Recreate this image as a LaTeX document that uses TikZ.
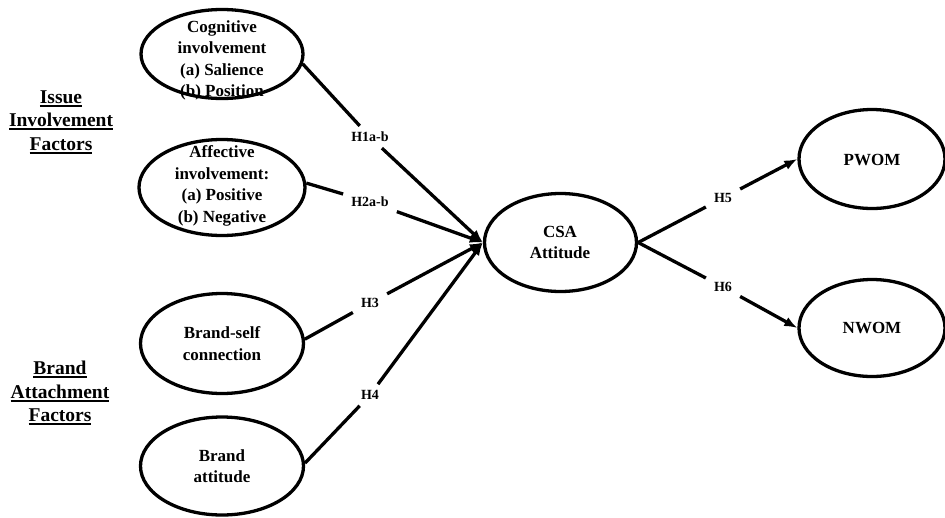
\documentclass[tikz,border=0pt]{standalone}
\usepackage{fontspec}
\setmainfont{Liberation Serif}
\usetikzlibrary{arrows.meta,shapes.geometric}
\newcommand{\ulb}[1]{\setbox0=\hbox{#1}\rlap{\rule[-3.5pt]{\wd0}{1.7pt}}\box0}
\begin{document}
\begin{tikzpicture}[x=1pt,y=-1pt,
  oval/.style={ellipse,draw,line width=3.3pt,inner sep=0pt},
  etext/.style={align=center,font=\bfseries\fontsize{17}{21.5}\selectfont,inner sep=0pt},
  hlab/.style={font=\bfseries\fontsize{14}{16}\selectfont,inner xsep=8pt,inner ysep=6pt},
  group/.style={align=center,font=\bfseries\fontsize{19.5}{23.5}\selectfont},
  conn/.style={line width=3.3pt},
  arr/.style={conn,-{Latex[length=13pt,width=10pt]}}]
\useasboundingbox (0,0) rectangle (945,517);

% ellipses
\node[oval,minimum width=162pt,minimum height=89pt] (cog) at (222,54) {};
\node[oval,minimum width=166pt,minimum height=96pt] (aff) at (222,187.5) {};
\node[oval,minimum width=163pt,minimum height=100pt] (bsc) at (222,343.5) {};
\node[oval,minimum width=163pt,minimum height=98pt] (bat) at (222,466) {};
\node[oval,minimum width=152pt,minimum height=98pt] (csa) at (560.5,242.5) {};
\node[oval,minimum width=146pt,minimum height=99pt] (pwom) at (872,159) {};
\node[oval,minimum width=146pt,minimum height=97pt] (nwom) at (872,328) {};

% texts
\node[etext] (cogt) at (222,60.5) {Cognitive\\involvement\\(a) Salience\\(b) Position};
\node[etext] (afft) at (222,186) {Affective\\involvement:\\(a) Positive\\(b) Negative};
\node[etext] (bsct) at (222,343.5) {Brand-self\\connection};
\node[etext] (batt) at (222,466) {Brand\\attitude};
\node[etext] (csat) at (560,242.5) {CSA\\Attitude};
\node[etext] (pwomt) at (872,160) {PWOM};
\node[etext] (nwomt) at (872,328) {NWOM};

% group labels
\node[group] (issue) at (61,122) {\ulb{Issue}\\\ulb{Involvement}\\\ulb{Factors}};
\node[group] (brand) at (60,393) {\ulb{Brand}\\\ulb{Attachment}\\\ulb{Factors}};

% hypothesis labels
\node[hlab] (h1) at (370,137) {H1a-b};
\node[hlab] (h2) at (370,202) {H2a-b};
\node[hlab] (h3) at (370,303) {H3};
\node[hlab] (h4) at (370,395) {H4};
\node[hlab] (h5) at (723,198) {H5};
\node[hlab] (h6) at (723,287) {H6};

% connectors
\draw[conn] (cog.-7) -- (h1);
\draw[arr] (h1) -- (csa.west);
\draw[conn] (aff.3) -- (h2);
\draw[arr] (h2) -- (csa.west);
\draw[conn] (bsc.3) -- (h3);
\draw[arr] (h3) -- (csa.west);
\draw[conn] (bat.2) -- (h4);
\draw[arr] (h4) -- (csa.west);
\draw[conn] (csa.east) -- (h5);
\draw[arr] (h5) -- (pwom.west);
\draw[conn] (csa.east) -- (h6);
\draw[arr] (h6) -- (nwom.west);
\end{tikzpicture}
\end{document}
